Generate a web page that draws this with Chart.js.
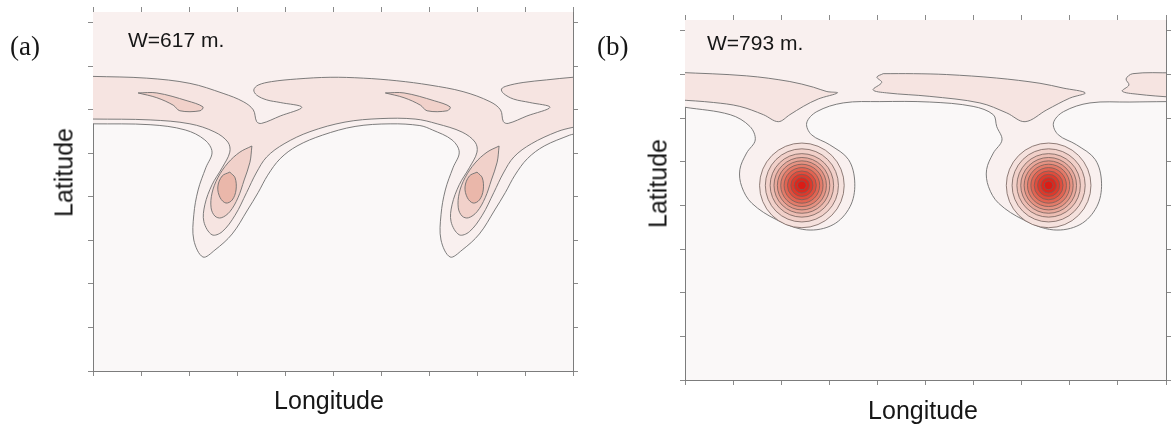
<!DOCTYPE html>
<html>
<head>
<meta charset="utf-8">
<title>W contours</title>
<script src="https://cdn.jsdelivr.net/npm/chart.js@4.4.1/dist/chart.umd.min.js"></script>
<style>
  html, body { margin: 0; padding: 0; background: #fff; }
  #page { position: relative; width: 1176px; height: 426px; overflow: hidden; font-family: "Liberation Sans", Arial, sans-serif; color: #161616; }
  canvas { position: absolute; top: 0; }
  .txt { position: absolute; white-space: nowrap; }
  .panel { font-family: "Liberation Serif", "Times New Roman", serif; font-size: 27px; line-height: 27px; }
  .wlab { font-size: 21px; line-height: 21px; }
  .axt { font-size: 25px; line-height: 25px; width: 140px; text-align: center; }
  .rot { transform: rotate(-90deg); }
</style>
</head>
<body>
<div id="page">
  <canvas id="panelA" width="590" height="426" style="left:0"></canvas>
  <canvas id="panelB" width="586" height="426" style="left:590px"></canvas>
  <div class="txt panel" style="left:10px;top:33px">(a)</div>
  <div class="txt panel" style="left:597px;top:33px">(b)</div>
  <div class="txt wlab" style="left:128px;top:29px">W=617 m.</div>
  <div class="txt wlab" style="left:707px;top:32px">W=793 m.</div>
  <div class="txt axt rot" style="left:-6px;top:160px">Latitude</div>
  <div class="txt axt rot" style="left:588px;top:171px">Latitude</div>
  <div class="txt axt" style="left:259px;top:388px">Longitude</div>
  <div class="txt axt" style="left:853px;top:398px">Longitude</div>
</div>
<script>
// axes: longitude 0..10, latitude 0..8.25, one tick per unit, no labels
const lonRange = [0, 10];
const latRange = [0, 8.25];

// ---- panel (a), W=617 m. ----  contour points are [lon, lat]
// upper edge of the band (with the two notches)
const aUpper = [[-0.3,6.77],[-0.15,6.77],[0,6.77],[1.12,6.73],[2.02,6.61],[2.71,6.38],[3.13,6.19],[3.34,6.00],[3.41,5.73],[3.51,5.69],[3.90,5.86],[4.35,6.06],[3.90,6.17],[3.62,6.23],[3.41,6.34],[3.35,6.46],[3.44,6.57],[3.72,6.65],[4.24,6.71],[4.94,6.75],[5.63,6.73],[6.33,6.67],[7.02,6.57],[7.71,6.42],[8.27,6.19],[8.49,6.00],[8.55,5.73],[8.65,5.69],[9.04,5.86],[9.52,6.06],[9.10,6.17],[8.76,6.25],[8.55,6.38],[8.51,6.48],[8.62,6.55],[8.96,6.63],[9.45,6.69],[10,6.75],[10.15,6.75],[10.3,6.75]];
// second contour: lower edge of band, dips into each hook
const aInner = [[-0.3,5.79],[-0.15,5.79],[0,5.79],[1.19,5.77],[2.02,5.68],[2.54,5.49],[2.81,5.26],[2.85,5.03],[2.69,4.67],[2.48,4.28],[2.33,3.82],[2.31,3.43],[2.48,3.13],[2.69,3.20],[2.96,3.58],[3.20,4.10],[3.40,4.55],[3.62,4.92],[3.98,5.22],[4.52,5.50],[5.25,5.72],[5.98,5.80],[6.71,5.79],[7.17,5.68],[7.69,5.49],[7.96,5.26],[8.00,5.03],[7.84,4.67],[7.63,4.28],[7.48,3.82],[7.46,3.43],[7.63,3.13],[7.84,3.20],[8.11,3.58],[8.35,4.10],[8.55,4.55],[8.77,4.92],[9.13,5.22],[9.67,5.50],[10,5.60],[10.15,5.62],[10.3,5.62]];
// outermost contour
const aOuter = [[-0.3,5.68],[-0.15,5.68],[0,5.68],[1.19,5.66],[1.92,5.54],[2.33,5.31],[2.48,5.03],[2.35,4.67],[2.19,4.16],[2.10,3.59],[2.10,3.01],[2.29,2.62],[2.54,2.78],[2.90,3.15],[3.22,3.70],[3.44,4.10],[3.64,4.50],[3.90,4.88],[4.25,5.17],[4.78,5.42],[5.46,5.62],[6.19,5.68],[6.81,5.64],[7.07,5.54],[7.48,5.31],[7.63,5.03],[7.50,4.67],[7.34,4.16],[7.25,3.59],[7.25,3.01],[7.44,2.62],[7.69,2.78],[8.05,3.15],[8.37,3.70],[8.59,4.10],[8.79,4.50],[9.05,4.88],[9.40,5.17],[9.93,5.42],[10,5.44],[10.15,5.46],[10.3,5.46]];
const aTongues = [
  [[0.94,6.39],[1.33,6.39],[1.96,6.21],[2.29,6.07],[2.23,5.98],[1.81,5.98],[1.67,6.11],[1.33,6.28]],
  [[6.09,6.39],[6.48,6.39],[7.11,6.21],[7.44,6.07],[7.38,5.98],[6.96,5.98],[6.82,6.11],[6.48,6.28]]
];
const aRings = [
  [[3.31,5.17],[3.06,5.03],[2.81,4.78],[2.60,4.44],[2.48,4.09],[2.46,3.75],[2.54,3.56],[2.67,3.52],[2.85,3.66],[3.02,3.98],[3.15,4.39],[3.27,4.80]],
  [[8.46,5.17],[8.21,5.03],[7.96,4.78],[7.75,4.44],[7.63,4.09],[7.61,3.75],[7.69,3.56],[7.82,3.52],[8.00,3.66],[8.17,3.98],[8.30,4.39],[8.42,4.80]]
];
const aCores = [
  [[2.85,4.57],[2.96,4.44],[2.98,4.16],[2.90,3.93],[2.77,3.86],[2.65,3.98],[2.60,4.23],[2.69,4.48]],
  [[8.00,4.57],[8.11,4.44],[8.13,4.16],[8.05,3.93],[7.92,3.86],[7.80,3.98],[7.75,4.23],[7.84,4.48]]
];

// ---- panel (b), W=793 m. ----
const bOuter = [[-0.3,6.27],[-0.15,6.27],[0,6.25],[0.94,6.08],[1.35,5.81],[1.46,5.50],[1.28,5.20],[1.14,4.82],[1.18,4.43],[1.39,4.05],[1.91,3.67],[2.53,3.44],[3.08,3.56],[3.43,3.97],[3.53,4.51],[3.40,5.05],[3.01,5.39],[2.63,5.62],[2.53,5.89],[2.74,6.15],[3.29,6.35],[4.05,6.38],[5.09,6.37],[5.99,6.27],[6.41,6.08],[6.48,5.81],[6.59,5.50],[6.41,5.20],[6.27,4.82],[6.31,4.43],[6.52,4.05],[7.04,3.67],[7.66,3.44],[8.21,3.56],[8.56,3.97],[8.66,4.51],[8.53,5.05],[8.14,5.39],[7.76,5.62],[7.66,5.89],[7.87,6.15],[8.42,6.35],[9.25,6.37],[10,6.38],[10.15,6.38],[10.3,6.38]];
const bBlobs = [
  [[-0.3,7.05],[-0.15,7.05],[1.28,6.97],[2.18,6.84],[2.67,6.71],[2.95,6.61],[3.17,6.58],[2.77,6.44],[2.46,6.27],[2.18,6.08],[1.94,5.92],[1.63,6.08],[1.14,6.27],[0.59,6.36],[-0.15,6.42],[-0.3,6.42]],
  [[4.12,7.02],[3.99,6.94],[4.09,6.82],[3.91,6.65],[4.19,6.58],[5.09,6.50],[6.13,6.35],[6.69,6.12],[7.07,5.92],[7.52,6.19],[8.00,6.46],[8.32,6.58],[7.86,6.69],[7.38,6.80],[6.48,6.92],[5.44,7.00],[4.75,7.02]],
  [[10.3,7.04],[10.15,7.04],[9.31,7.02],[9.17,6.90],[9.23,6.76],[9.09,6.62],[9.40,6.55],[10.15,6.48],[10.3,6.48]]
];
const bCenters = [[2.43, 4.46], [7.56, 4.46]];
const bRadii = [0.88, 0.76, 0.66, 0.58, 0.51, 0.44, 0.37, 0.30, 0.23, 0.16, 0.09]; // lon units

// styles
const levelColors = ['#faf8f8', '#f9f0ef', '#f6e4e1', '#f1d1ca', '#eab7aa'];
const ringColors = ['#f5e1dd','#f1d0c9','#ecbdb3','#e8a89b','#e59282','#e37b69','#e16452','#df4d3d','#dd392b','#db281e','#da1c16'];
const lineColor = '#6e6e6e';

const offTop = [[-0.3, 8.6], [10.3, 8.6]];
const pts = arr => arr.map(p => ({x: p[0], y: p[1]}));
const closeLoop = arr => arr.concat([arr[0]]);
const rev = arr => arr.slice().reverse();

function area(points, color, order) {
  return {
    type: 'line',
    data: pts(points),
    order: order,
    backgroundColor: color,
    borderColor: lineColor,
    borderWidth: 0.9,
    fill: 'shape',
    tension: 0.35,
    pointRadius: 0
  };
}

const plotBg = {
  id: 'plotBg',
  beforeDraw(chart) {
    const {ctx, chartArea: a} = chart;
    ctx.save();
    ctx.fillStyle = levelColors[0];
    ctx.fillRect(a.left, a.top, a.width, a.height);
    ctx.restore();
  }
};

function axisSet() {
  const grid = {drawOnChartArea: false, drawTicks: true, tickLength: 5, color: '#8a8a8a'};
  const border = {display: true, color: '#7c7c7c', width: 1};
  const lon = pos => ({
    type: 'linear', position: pos, min: lonRange[0], max: lonRange[1], z: 1,
    ticks: {display: false, stepSize: 1, includeBounds: false},
    grid: grid, border: border,
    afterFit: s => { s.height = 5; }
  });
  const lat = pos => ({
    type: 'linear', position: pos, min: latRange[0], max: latRange[1], z: 1,
    ticks: {display: false, stepSize: 1, includeBounds: false},
    grid: grid, border: border,
    afterFit: s => { s.width = 5; }
  });
  return {x: lon('bottom'), x2: lon('top'), y: lat('left'), y2: lat('right')};
}

function makeChart(id, datasets, pad) {
  return new Chart(document.getElementById(id), {
    type: 'line',
    data: {datasets: datasets},
    options: {
      responsive: false,
      animation: false,
      events: [],
      layout: {padding: pad, autoPadding: false},
      elements: {line: {capBezierPoints: false}, point: {radius: 0}},
      plugins: {legend: {display: false}, tooltip: {enabled: false}},
      scales: axisSet()
    },
    plugins: [plotBg]
  });
}

// panel (a)
const dsA = [
  area(offTop.concat(rev(aOuter)), levelColors[1], 6),
  area(aUpper.concat(rev(aInner)), levelColors[2], 5)
];
aTongues.forEach(t => dsA.push(area(closeLoop(t), levelColors[3], 4)));
aRings.forEach(r => dsA.push(area(closeLoop(r), levelColors[3], 4)));
aCores.forEach(c => dsA.push(area(closeLoop(c), levelColors[4], 3)));
makeChart('panelA', dsA, {left: 88, right: 12, top: 7, bottom: 50});

// panel (b): closed rings drawn as circle points, radius taken from the lon scale
const ringData = [];
bCenters.forEach(c => bRadii.forEach(() => ringData.push({x: c[0], y: c[1]})));
function ringPx(ctx) {
  const s = ctx.chart.scales.x;
  if (!s || !s.width) return 0;
  return s.getPixelForValue(bRadii[ctx.dataIndex % bRadii.length]) - s.getPixelForValue(0);
}
const dsB = [
  area(offTop.concat(rev(bOuter)), levelColors[1], 6),
  area(bBlobs[0], levelColors[2], 5),
  area(closeLoop(bBlobs[1]), levelColors[2], 5),
  area(bBlobs[2], levelColors[2], 5),
  {
    type: 'line',
    data: ringData,
    order: 0,
    showLine: false,
    pointStyle: 'circle',
    pointRadius: ringPx,
    pointBackgroundColor: ctx => ringColors[ctx.dataIndex % bRadii.length],
    pointBorderColor: '#74605b',
    pointBorderWidth: 0.8
  }
];
makeChart('panelB', dsB, {left: 90, right: 5, top: 15, bottom: 41});
</script>
</body>
</html>
